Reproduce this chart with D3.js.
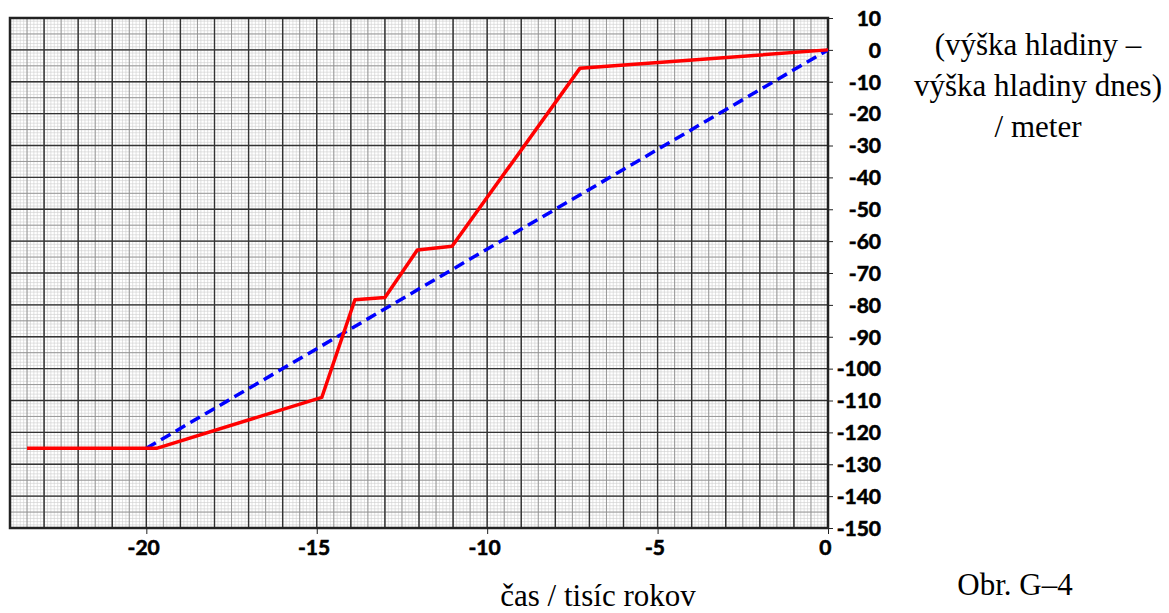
<!DOCTYPE html>
<html>
<head>
<meta charset="utf-8">
<script src="https://cdn.jsdelivr.net/npm/d3@7"></script>
<style>
  body { margin: 0; background: #fff; }
  .tick-label { font-family: Lato, "Open Sans", sans-serif; font-weight: bold; font-size: 21px; fill: #000; stroke: #000; stroke-width: 0.6px; }
  .serif { font-family: "Liberation Serif", "Times New Roman", serif; font-size: 31px; fill: #000; }
</style>
</head>
<body>
<svg class="chart"></svg>
<script>
// red line: measured sea level, blue: straight reference
var redYears = [-23.5, -20, -19.7, -14.85, -13.88, -13, -12.05, -11.03, -7.28, 0];
var redLevels = [-125, -125, -125, -109, -78.4, -77.7, -62.8, -61.6, -5.8, 0];
var blueYears = [-20, 0];
var blueLevels = [-125, 0];

var xTicks = [-20, -15, -10, -5, 0];
var yTicks = [10, 0, -10, -20, -30, -40, -50, -60, -70, -80, -90, -100, -110, -120, -130, -140, -150];

var width = 1169, height = 613;
var plotLeft = 10, plotRight = 828, plotTop = 18, plotBottom = 528;

var chart = d3.select(".chart")
    .attr("width", width)
    .attr("height", height);

var x = d3.scaleLinear().domain([-24, 0]).range([plotLeft, plotRight]);
var y = d3.scaleLinear().domain([-150, 10]).range([plotBottom, plotTop]);

// graph paper
var grid = chart.append("g");

function vLines(step, color, w) {
  var vals = d3.range(-24, 0.0001, step);
  grid.append("g").selectAll("line")
      .data(vals)
    .enter().append("line")
      .attr("x1", function(d) { return x(d); })
      .attr("x2", function(d) { return x(d); })
      .attr("y1", plotTop)
      .attr("y2", plotBottom)
      .attr("stroke", color)
      .attr("stroke-width", w);
}
function hLines(step, color, w) {
  var vals = d3.range(-150, 10.0001, step);
  grid.append("g").selectAll("line")
      .data(vals)
    .enter().append("line")
      .attr("y1", function(d) { return y(d); })
      .attr("y2", function(d) { return y(d); })
      .attr("x1", plotLeft)
      .attr("x2", plotRight)
      .attr("stroke", color)
      .attr("stroke-width", w);
}
vLines(0.1, "#cfcfcf", 0.6);
hLines(1, "#cfcfcf", 0.6);
vLines(0.5, "#909090", 0.9);
hLines(5, "#909090", 0.9);
vLines(1, "#333", 1.4);
hLines(10, "#333", 1.4);

chart.append("rect")
    .attr("x", plotLeft)
    .attr("y", plotTop)
    .attr("width", plotRight - plotLeft)
    .attr("height", plotBottom - plotTop)
    .attr("fill", "none")
    .attr("stroke", "#222")
    .attr("stroke-width", 2.5);

// axes (plain hyphen minus like the original)
var fmt = function(d) { return String(d); };

var xAxis = chart.append("g")
    .attr("transform", "translate(0," + plotBottom + ")")
    .call(d3.axisBottom(x).tickValues(xTicks).tickSize(6).tickFormat(fmt));
xAxis.select(".domain").remove();
xAxis.selectAll("line").attr("stroke", "#222");
xAxis.selectAll("text")
    .attr("class", "tick-label")
    .attr("y", 12)
    .attr("dy", "0.71em")
    .attr("dx", "-0.15em");

var yAxis = chart.append("g")
    .attr("transform", "translate(" + plotRight + ",0)")
    .call(d3.axisRight(y).tickValues(yTicks).tickSize(5).tickFormat(fmt));
yAxis.select(".domain").remove();
yAxis.selectAll("line").attr("stroke", "#222");
yAxis.selectAll("text")
    .attr("class", "tick-label")
    .attr("text-anchor", "end")
    .attr("x", 53)
    .attr("dy", "0.35em");

// lines
var line = d3.line()
    .x(function(d) { return x(d[0]); })
    .y(function(d) { return y(d[1]); });

chart.append("path")
    .datum(d3.zip(blueYears, blueLevels))
    .attr("d", line)
    .attr("fill", "none")
    .attr("stroke", "#0000ff")
    .attr("stroke-width", 3.5)
    .attr("stroke-dasharray", "11,6");

chart.append("path")
    .datum(d3.zip(redYears, redLevels))
    .attr("d", line)
    .attr("fill", "none")
    .attr("stroke", "#ff0000")
    .attr("stroke-width", 3.5)
    .attr("stroke-linejoin", "round");

// labels
var yTitle = ["(výška hladiny –", "výška hladiny dnes)", "/ meter"];
chart.append("g").selectAll("text")
    .data(yTitle)
  .enter().append("text")
    .attr("class", "serif")
    .attr("x", 1038)
    .attr("y", function(d, i) { return 55 + i * 41; })
    .attr("text-anchor", "middle")
    .text(function(d) { return d; });

chart.append("text")
    .attr("class", "serif")
    .attr("x", 598)
    .attr("y", 606)
    .attr("text-anchor", "middle")
    .text("čas / tisíc rokov");

chart.append("text")
    .attr("class", "serif")
    .attr("x", 1015)
    .attr("y", 595)
    .attr("text-anchor", "middle")
    .text("Obr. G–4");
</script>
</body>
</html>
